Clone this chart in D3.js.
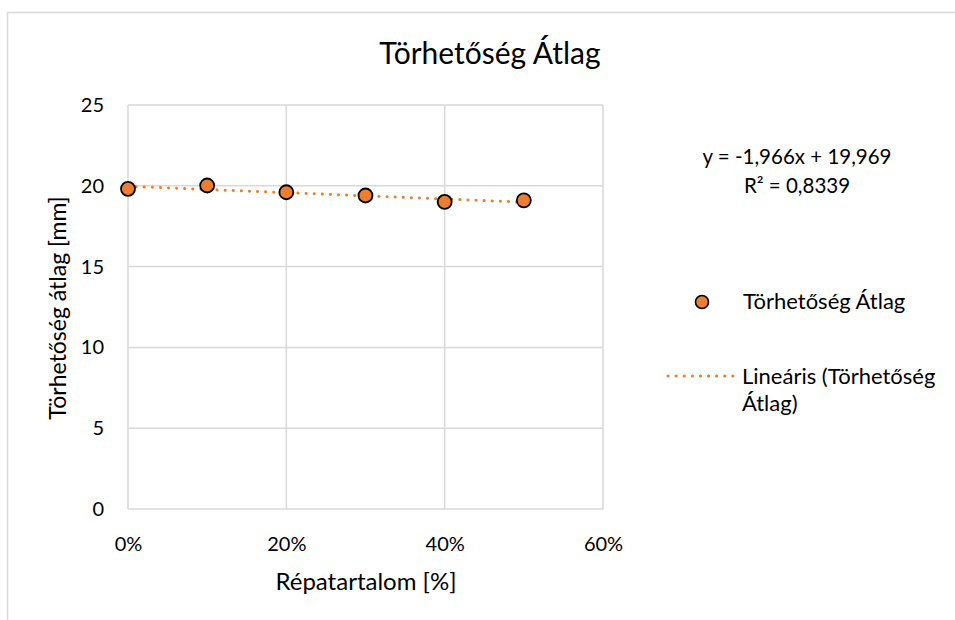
<!DOCTYPE html>
<html>
<head>
<meta charset="utf-8">
<script src="https://cdn.jsdelivr.net/npm/d3@7"></script>
<style>
  body { margin: 0; background: #fff; }
  svg text { font-family: Lato, "Noto Sans", sans-serif; fill: #000; }
</style>
</head>
<body>
<div id="chart"></div>
<script>
const xValues = [0, 0.1, 0.2, 0.3, 0.4, 0.5]
const yValues = [19.81, 20.02, 19.6, 19.4, 19.0, 19.1]
const xTicks = [0, 0.2, 0.4, 0.6]
const yTicks = [0, 5, 10, 15, 20, 25]
const slope = -1.966
const intercept = 19.969
const eqLabel = 'y = -1,966x + 19,969'
const r2Label = 'R² = 0,8339'
const seriesName = 'Törhetőség Átlag'

const width = 955, height = 620
const orange = '#ED7D31'

const svg = d3.select('#chart').append('svg')
.attr('width', width)
.attr('height', height)

// chart frame
svg.append('rect')
.attr('x', 7.5).attr('y', 12.5)
.attr('width', 960).attr('height', 620)
.attr('fill', 'none')
.attr('stroke', '#d9d9d9')
.attr('stroke-width', 1.5)

const x = d3.scaleLinear().domain([0, 0.6]).range([128, 603])
const y = d3.scaleLinear().domain([0, 25]).range([509, 105])

// gridlines
svg.append('g')
.selectAll('line')
.data(yTicks)
.enter()
.append('line')
.attr('x1', x(0)).attr('x2', x(0.6))
.attr('y1', d => y(d)).attr('y2', d => y(d))
.attr('stroke', '#d9d9d9').attr('stroke-width', 1.5)

svg.append('g')
.selectAll('line')
.data(xTicks)
.enter()
.append('line')
.attr('x1', d => x(d)).attr('x2', d => x(d))
.attr('y1', y(0)).attr('y2', y(25))
.attr('stroke', '#d9d9d9').attr('stroke-width', 1.5)

// axes (labels only)
const yAxis = svg.append('g')
.attr('transform', `translate(${x(0)},0)`)
.call(d3.axisLeft(y).tickValues(yTicks).tickSize(0).tickPadding(24))
yAxis.select('.domain').remove()
yAxis.selectAll('text').style('font-size', '20px')

const xAxis = svg.append('g')
.attr('transform', `translate(0,${y(0)})`)
.call(d3.axisBottom(x).tickValues(xTicks).tickSize(0).tickPadding(28).tickFormat(d3.format('.0%')))
xAxis.select('.domain').remove()
xAxis.selectAll('text').style('font-size', '20px')

// trendline
svg.append('line')
.attr('x1', x(xValues[0]))
.attr('y1', y(slope * xValues[0] + intercept))
.attr('x2', x(xValues[xValues.length - 1]))
.attr('y2', y(slope * xValues[xValues.length - 1] + intercept))
.attr('stroke', orange)
.attr('stroke-width', 3)
.attr('stroke-linecap', 'round')
.attr('stroke-dasharray', '0.1 8')

// points
svg.append('g')
.selectAll('circle')
.data(xValues)
.enter()
.append('circle')
.attr('cx', d => x(d))
.attr('cy', (d, i) => y(yValues[i]))
.attr('r', 7)
.attr('fill', orange)
.attr('stroke', '#000')
.attr('stroke-width', 1.8)

// title
svg.append('text')
.attr('x', 490).attr('y', 64)
.attr('text-anchor', 'middle')
.style('font-size', '30px')
.text(seriesName)

// axis titles
svg.append('text')
.attr('x', 366).attr('y', 590)
.attr('text-anchor', 'middle')
.style('font-size', '24px')
.text('Répatartalom [%]')

svg.append('text')
.attr('transform', 'translate(66,308) rotate(-90)')
.attr('text-anchor', 'middle')
.style('font-size', '23px')
.text('Törhetőség átlag [mm]')

// equation
svg.append('text')
.attr('x', 797).attr('y', 164)
.attr('text-anchor', 'middle')
.style('font-size', '20.5px')
.text(eqLabel)

svg.append('text')
.attr('x', 797).attr('y', 193)
.attr('text-anchor', 'middle')
.style('font-size', '20.5px')
.text(r2Label)

// legend
svg.append('circle')
.attr('cx', 702).attr('cy', 302)
.attr('r', 6.5)
.attr('fill', orange)
.attr('stroke', '#000')
.attr('stroke-width', 1.6)

svg.append('text')
.attr('x', 743).attr('y', 309)
.style('font-size', '22px')
.text(seriesName)

svg.append('line')
.attr('x1', 668).attr('x2', 734)
.attr('y1', 376).attr('y2', 376)
.attr('stroke', orange)
.attr('stroke-width', 3)
.attr('stroke-linecap', 'round')
.attr('stroke-dasharray', '0.1 8')

svg.append('text')
.attr('x', 742).attr('y', 384)
.style('font-size', '22px')
.text('Lineáris (Törhetőség')

svg.append('text')
.attr('x', 742).attr('y', 411)
.style('font-size', '22px')
.text('Átlag)')
</script>
</body>
</html>
